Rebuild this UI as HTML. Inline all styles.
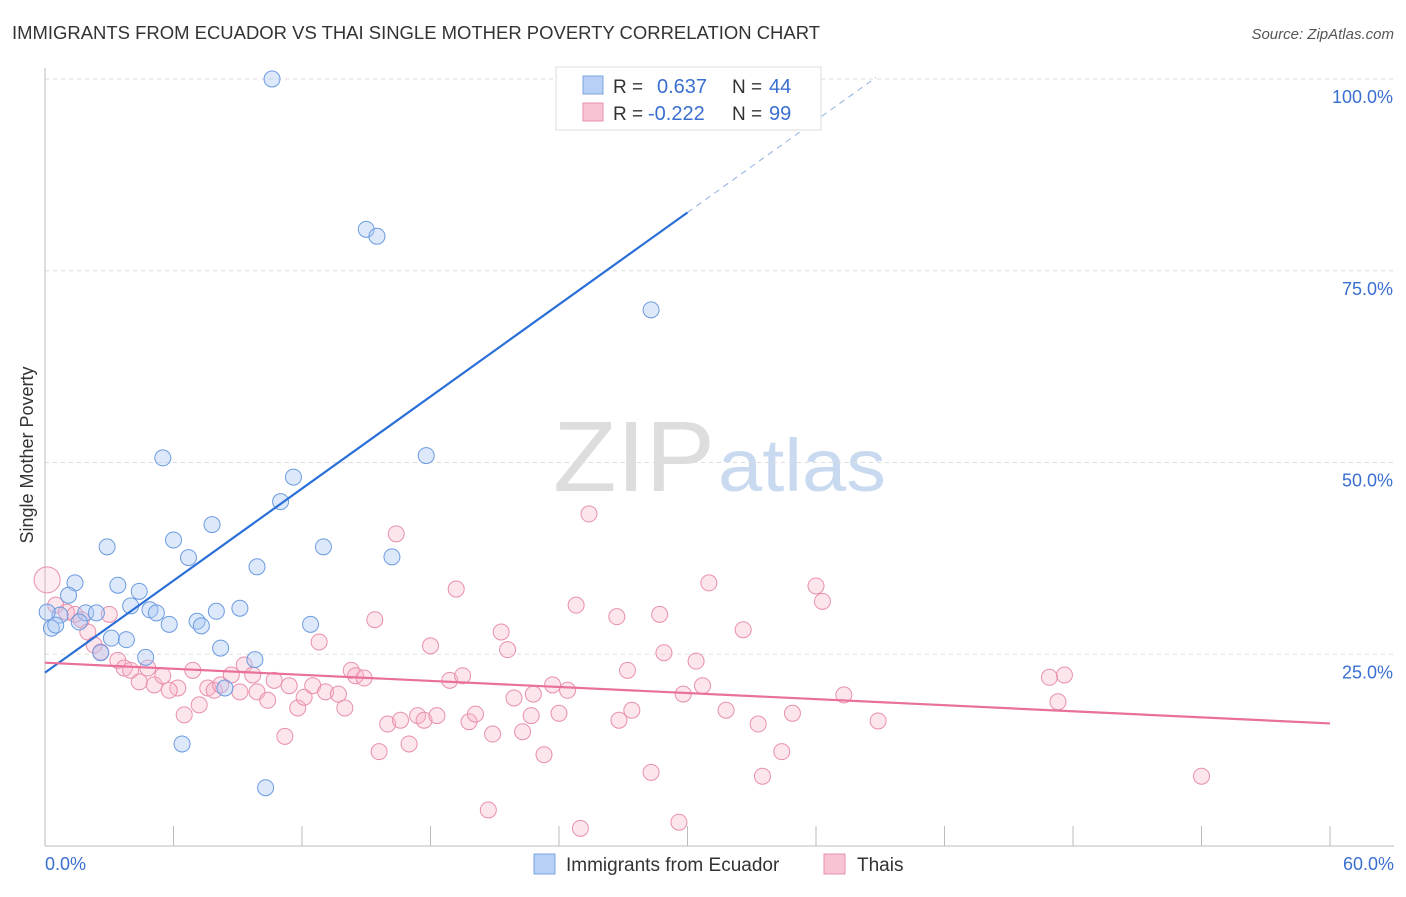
<!DOCTYPE html>
<html><head><meta charset="utf-8">
<style>
body{margin:0;background:#fff;font-family:"Liberation Sans",sans-serif;}
svg text{font-family:"Liberation Sans",sans-serif;}
</style></head>
<body>
<svg id="chart" width="1406" height="892">
<text x="12" y="39" font-size="18" fill="#333" textLength="808" lengthAdjust="spacingAndGlyphs">IMMIGRANTS FROM ECUADOR VS THAI SINGLE MOTHER POVERTY CORRELATION CHART</text>
<text x="1394" y="39" font-size="15" fill="#555" font-style="italic" text-anchor="end">Source: ZipAtlas.com</text>
<text x="33" y="455" font-size="18" fill="#333" transform="rotate(-90 33 455)" text-anchor="middle">Single Mother Poverty</text>
<text x="553" y="491" font-size="100" fill="#ddd" font-family="Liberation Serif" textLength="162" lengthAdjust="spacingAndGlyphs">ZIP</text>
<text x="718" y="491" font-size="74" fill="#c9daf0" textLength="168" lengthAdjust="spacingAndGlyphs">atlas</text>
<g id="grid"></g>
<g id="axes"></g>
<g id="pts"></g>
<g id="lines"></g>
<g>
<rect x="556" y="67" width="265" height="63" fill="#fff" stroke="#ddd"/>
<rect x="583" y="76" width="20" height="18" fill="#b8d0f5" stroke="#7aa3e0"/>
<rect x="583" y="103" width="20" height="18" fill="#f8c4d4" stroke="#e890ac"/>
<text x="613" y="93" font-size="19" fill="#333">R =</text>
<text x="657" y="93" font-size="20" fill="#3a6fd0">0.637</text>
<text x="732" y="93" font-size="19" fill="#333">N =</text>
<text x="769" y="93" font-size="20" fill="#3a6fd0">44</text>
<text x="613" y="120" font-size="19" fill="#333">R =</text>
<text x="648" y="120" font-size="20" fill="#3a6fd0">-0.222</text>
<text x="732" y="120" font-size="19" fill="#333">N =</text>
<text x="769" y="120" font-size="20" fill="#3a6fd0">99</text>
</g>
<g>
<rect x="534" y="854" width="21" height="20" fill="#b8d0f5" stroke="#7aa3e0"/>
<text x="566" y="871" font-size="19" fill="#333">Immigrants from Ecuador</text>
<rect x="824" y="854" width="21" height="20" fill="#f8c4d4" stroke="#e890ac"/>
<text x="857" y="871" font-size="19" fill="#333">Thais</text>
</g>
</svg>
<script>
const blueX=[10.6,15.0,15.5,28.3,17.8,5.5,11.6,11.0,7.8,6.0,2.9,13.0,6.7,16.2,9.9,1.4,3.4,4.4,4.0,4.9,5.2,9.1,8.0,1.1,1.9,2.4,0.7,7.1,7.3,5.8,12.4,1.6,0.3,0.5,3.1,3.8,8.2,2.6,4.7,9.8,8.4,6.4,10.3,0.1];
const blueY=[100,80.4,79.5,69.9,50.9,50.6,48.1,44.9,41.9,39.9,39.0,39.0,37.6,37.7,36.4,34.3,34.0,33.2,31.3,30.8,30.4,31.0,30.6,32.7,30.4,30.4,30.1,29.3,28.7,28.9,28.9,29.2,28.4,28.8,27.1,26.9,25.8,25.2,24.6,24.3,20.6,13.3,7.6,30.5];
const pinkX=[0.1,0.5,1.0,1.4,3.0,1.7,2.0,2.3,2.6,3.4,3.7,4.0,4.8,4.4,5.1,5.5,6.2,5.8,6.5,6.9,7.2,7.6,7.9,8.2,8.7,9.1,9.3,9.7,9.9,10.4,10.7,11.2,11.4,11.8,12.1,12.5,12.8,13.1,13.7,14.0,14.3,14.5,14.9,15.4,15.6,16.0,16.4,16.6,17.0,17.4,17.7,18.0,18.3,18.9,19.2,19.5,19.8,20.1,20.7,20.9,21.3,21.6,21.9,22.3,22.7,22.8,23.3,23.7,24.0,24.4,24.8,25.0,25.4,26.7,26.8,27.2,27.4,28.3,28.7,28.9,29.6,29.8,30.4,30.7,31.0,31.8,32.6,33.3,33.5,34.4,34.9,36.0,36.3,37.3,38.9,46.9,47.3,47.6,54.0];
const pinkY=[34.7,31.4,30.5,30.2,30.2,29.5,27.9,26.2,25.3,24.2,23.2,22.9,23.2,21.4,21.0,22.2,20.6,20.3,17.1,22.9,18.4,20.6,20.3,21.0,22.3,20.1,23.6,22.3,20.1,19.0,21.6,14.3,20.9,18.0,19.4,20.9,26.6,20.1,19.8,18.0,22.9,22.2,21.9,29.5,12.3,15.9,40.7,16.4,13.3,17.0,16.4,26.1,17.0,21.6,33.5,22.2,16.2,17.2,4.7,14.6,27.9,25.6,19.3,14.9,17.0,19.8,11.9,21.0,17.3,20.3,31.4,2.3,43.3,29.9,16.4,22.9,17.7,9.6,30.2,25.2,3.1,19.8,24.1,20.9,34.3,17.7,28.2,15.9,9.1,12.3,17.3,33.9,31.9,19.7,16.3,22.0,18.8,22.3,9.1];
const yTicks=[25,50,75,100];
const xTicks=[0,6,12,18,24,30,36,42,48,54,60];
const blueLine=[22.6,2.0];   // intercept, slope
const pinkLine=[23.9,-0.132];

const NS="http://www.w3.org/2000/svg";
const X=v=>45+v/60*1285, Y=v=>846-v*7.67;
function mk(t,a,p){const e=document.createElementNS(NS,t);for(const k in a)e.setAttribute(k,a[k]);p.appendChild(e);return e;}
const grid=document.getElementById('grid'),axes=document.getElementById('axes'),pts=document.getElementById('pts'),lines=document.getElementById('lines');
yTicks.forEach(t=>{
 const l=mk('line',{x1:45,x2:1394,y1:Y(t),y2:Y(t),stroke:'#ddd','stroke-dasharray':'4,4'},grid);
 
 
 const tx=mk('text',{x:1393,y:Y(t)+24,'font-size':18,fill:'#3a6fd0','text-anchor':'end'},axes);
 tx.textContent=t.toFixed(1)+'%';
 
 
});
mk('line',{x1:45,x2:45,y1:68,y2:846,stroke:'#bbb'},axes);
mk('line',{x1:45,x2:1394,y1:846,y2:846,stroke:'#bbb'},axes);
xTicks.forEach(t=>{
 const l=mk('line',{x1:X(t),x2:X(t),y1:826,y2:846,stroke:'#bbb'},axes);
 
 
});
[[0,'0.0%','start',45],[60,'60.0%','end',1394]].forEach(a=>{
 const tx=mk('text',{x:a[3],y:870,'font-size':18,fill:'#3a6fd0','text-anchor':a[2]},axes);
 tx.textContent=a[1];
 
 
});
pinkX.forEach((x,i)=>{
 const c=mk('circle',{cx:X(x),cy:Y(pinkY[i]),r:i===0?13:8,fill:i===0?'rgba(248,180,200,0.25)':'rgba(248,180,200,0.35)',stroke:'#e890ac','stroke-width':1},pts);
 
 
});
blueX.forEach((x,i)=>{
 const c=mk('circle',{cx:X(x),cy:Y(blueY[i]),r:8,fill:'rgba(170,200,245,0.4)',stroke:'#6b9be0','stroke-width':1},pts);
 
 
});
const bl=mk('line',{x1:X(0),y1:Y(blueLine[0]),x2:X(30),y2:Y(blueLine[0]+blueLine[1]*30),stroke:'#2a6fd8','stroke-width':2.2},lines);


const bd=mk('line',{x1:X(30),y1:Y(blueLine[0]+blueLine[1]*30),x2:X(38.8),y2:Y(blueLine[0]+blueLine[1]*38.8),stroke:'#8fb0e0','stroke-width':1,'stroke-dasharray':'6,5'},lines);


const pl=mk('line',{x1:X(0),y1:Y(pinkLine[0]),x2:X(60),y2:Y(pinkLine[0]+pinkLine[1]*60),stroke:'#e8709a','stroke-width':2.2},lines);


</script>
</body></html>
